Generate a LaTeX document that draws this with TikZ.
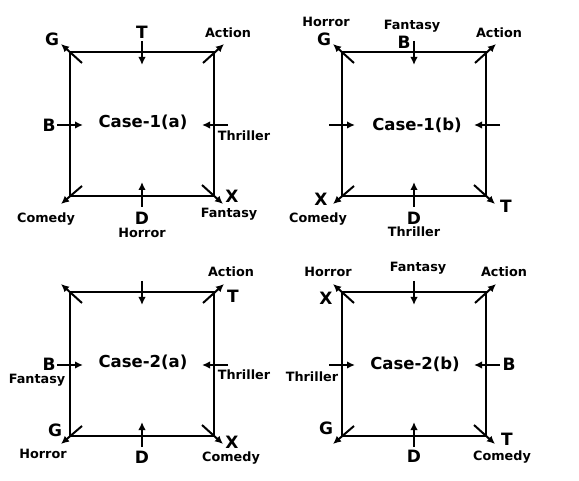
\documentclass[tikz,border=0pt]{standalone}
\usepackage{fontspec}
\setmainfont{DejaVu Sans}
\usetikzlibrary{arrows.meta}
\tikzset{
  box/.style={line width=2.4pt, line join=miter},
  arr/.style={line width=2pt, -{Latex[length=8pt,width=7.5pt]}},
  lab/.style={font=\bfseries\fontsize{12.8}{13}\selectfont, inner sep=0pt},
  big/.style={font=\bfseries\fontsize{17}{18}\selectfont, inner sep=0pt},
  ttl/.style={font=\bfseries\fontsize{16.5}{18}\selectfont, inner sep=0pt}
}
\newcommand{\mycase}[3]{%
  \begin{scope}[shift={(#1,#2)}]
    \coordinate (#3-a) at (0,0);
    \coordinate (#3-b) at (144,0);
    \coordinate (#3-c) at (144,144);
    \coordinate (#3-d) at (0,144);
    \draw[box] (#3-a) -- (#3-b) -- (#3-c) -- (#3-d) -- cycle;
    \coordinate (#3-tl1) at (12,11);   \coordinate (#3-tl2) at (-9,-8);
    \coordinate (#3-tr1) at (133,11);  \coordinate (#3-tr2) at (154,-8);
    \coordinate (#3-bl1) at (12,134);  \coordinate (#3-bl2) at (-9,152);
    \coordinate (#3-br1) at (132,133); \coordinate (#3-br2) at (153,152);
    \coordinate (#3-t1) at (72,-11);   \coordinate (#3-t2) at (72,13);
    \coordinate (#3-d1) at (72,155);   \coordinate (#3-d2) at (72,130);
    \coordinate (#3-l1) at (-13,73);   \coordinate (#3-l2) at (13,73);
    \coordinate (#3-r1) at (158,73);   \coordinate (#3-r2) at (132,73);
    \draw[arr] (#3-tl1) -- (#3-tl2);
    \draw[arr] (#3-tr1) -- (#3-tr2);
    \draw[arr] (#3-bl1) -- (#3-bl2);
    \draw[arr] (#3-br1) -- (#3-br2);
    \draw[arr] (#3-t1) -- (#3-t2);
    \draw[arr] (#3-d1) -- (#3-d2);
    \draw[arr] (#3-l1) -- (#3-l2);
    \draw[arr] (#3-r1) -- (#3-r2);
  \end{scope}}
\begin{document}
\begin{tikzpicture}[x=1pt,y=-1pt]
\useasboundingbox[fill=white] (0,0) rectangle (579,481);
% Case-1(a)
\mycase{70}{52}{ca}
\node[ttl] (ca-title) at (143,122) {Case-1(a)};
\node[big] (ca-T) at (142,32) {T};
\node[big] (ca-G) at (52,39) {G};
\node[lab] (ca-action) at (228,33) {Action};
\node[big] (ca-B) at (49,125) {B};
\node[lab] (ca-thriller) at (244,136) {Thriller};
\node[lab] (ca-comedy) at (46,219) {Comedy};
\node[big] (ca-D) at (142,218) {D};
\node[lab] (ca-horror) at (142,233) {Horror};
\node[big] (ca-X) at (232,196.5) {X};
\node[lab] (ca-fantasy) at (229,214) {Fantasy};
% Case-1(b)
\mycase{342}{52}{cb}
\node[ttl] (cb-title) at (417,125) {Case-1(b)};
\node[lab] (cb-horror) at (326,22) {Horror};
\node[big] (cb-G) at (324,39) {G};
\node[lab] (cb-fantasy) at (412,26) {Fantasy};
\node[big] (cb-B) at (404,42) {B};
\node[lab] (cb-action) at (499,33) {Action};
\node[big] (cb-X) at (321,199) {X};
\node[lab] (cb-comedy) at (318,219) {Comedy};
\node[big] (cb-D) at (414,218) {D};
\node[lab] (cb-thriller) at (414,232) {Thriller};
\node[big] (cb-T) at (506,206) {T};
% Case-2(a)
\mycase{70}{292}{cc}
\node[ttl] (cc-title) at (143,362) {Case-2(a)};
\node[lab] (cc-action) at (231,272) {Action};
\node[big] (cc-T) at (233,296) {T};
\node[big] (cc-B) at (49,364) {B};
\node[lab] (cc-fantasy) at (37,380) {Fantasy};
\node[lab] (cc-thriller) at (244,375) {Thriller};
\node[big] (cc-G) at (55,430) {G};
\node[lab] (cc-horror) at (43,454) {Horror};
\node[big] (cc-D) at (142,457) {D};
\node[big] (cc-X) at (232,442) {X};
\node[lab] (cc-comedy) at (231,458) {Comedy};
% Case-2(b)
\mycase{342}{292}{cd}
\node[ttl] (cd-title) at (415,364) {Case-2(b)};
\node[lab] (cd-horror) at (328,272) {Horror};
\node[big] (cd-X) at (326,298) {X};
\node[lab] (cd-fantasy) at (418,268) {Fantasy};
\node[lab] (cd-action) at (504,272) {Action};
\node[lab] (cd-thriller) at (312,377) {Thriller};
\node[big] (cd-B) at (509,364) {B};
\node[big] (cd-G) at (326,428) {G};
\node[big] (cd-D) at (414,456) {D};
\node[big] (cd-T) at (507,439) {T};
\node[lab] (cd-comedy) at (502,457) {Comedy};
\end{tikzpicture}
\end{document}
